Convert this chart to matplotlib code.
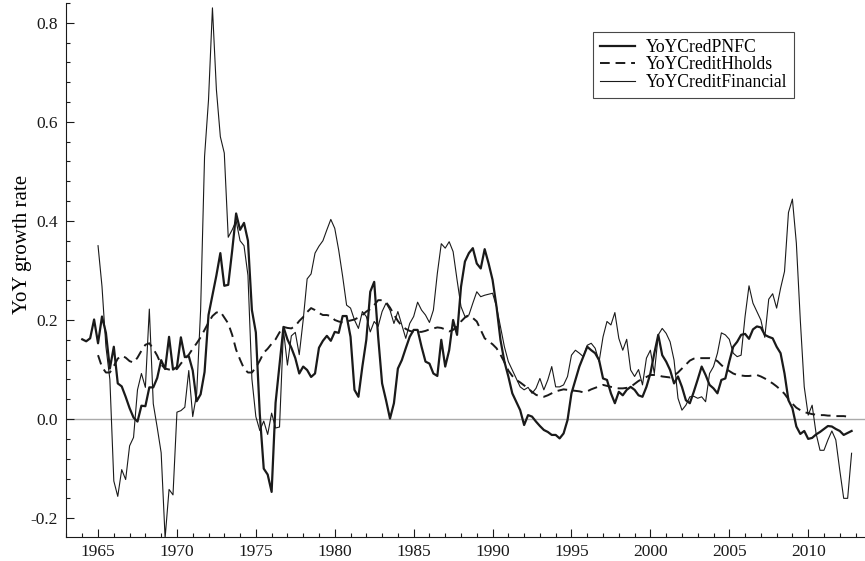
import numpy as np
import matplotlib
matplotlib.use("Agg")
import matplotlib.pyplot as plt
from matplotlib.ticker import MultipleLocator, FormatStrFormatter

plt.rcParams["font.family"] = ["Liberation Serif", "DejaVu Serif"]
plt.rcParams["axes.unicode_minus"] = False

# quarterly values
pnfc_start = 1964.0
pnfc = [
    0.161, 0.157, 0.163, 0.201, 0.153, 0.207, 0.174, 0.102,   # 1964-65
    0.146, 0.072, 0.066, 0.045, 0.022, 0.003, -0.005, 0.027,  # 1966-67
    0.026, 0.064, 0.064, 0.083, 0.119, 0.101, 0.166, 0.100,   # 1968-69
    0.105, 0.165, 0.125, 0.127, 0.098, 0.036, 0.050, 0.095,   # 1970-71
    0.210, 0.250, 0.290, 0.335, 0.269, 0.271, 0.340, 0.415,   # 1972-73
    0.382, 0.396, 0.360, 0.220, 0.175, 0.010, -0.100, -0.112, # 1974-75
    -0.147, 0.033, 0.109, 0.186, 0.161, 0.144, 0.123, 0.092,  # 1976-77
    0.106, 0.099, 0.085, 0.092, 0.144, 0.158, 0.168, 0.158,   # 1978-79
    0.176, 0.174, 0.208, 0.208, 0.166, 0.059, 0.045, 0.106,   # 1980-81
    0.160, 0.257, 0.277, 0.166, 0.072, 0.038, 0.001, 0.032,   # 1982-83
    0.102, 0.119, 0.143, 0.166, 0.180, 0.180, 0.146, 0.116,   # 1984-85
    0.112, 0.092, 0.087, 0.160, 0.106, 0.139, 0.200, 0.170,   # 1986-87
    0.267, 0.318, 0.335, 0.345, 0.314, 0.304, 0.343, 0.314,   # 1988-89
    0.281, 0.227, 0.160, 0.116, 0.086, 0.052, 0.035, 0.018,   # 1990-91
    -0.012, 0.008, 0.005, -0.005, -0.014, -0.022, -0.026, -0.032,  # 1992-93
    -0.032, -0.039, -0.029, -0.002, 0.052, 0.079, 0.106, 0.126,    # 1994-95
    0.146, 0.139, 0.133, 0.119, 0.082, 0.079, 0.052, 0.032,   # 1996-97
    0.055, 0.048, 0.059, 0.065, 0.059, 0.048, 0.045, 0.065,   # 1998-99
    0.092, 0.133, 0.170, 0.129, 0.116, 0.099, 0.072, 0.086,   # 2000-01
    0.065, 0.038, 0.032, 0.055, 0.080, 0.106, 0.089, 0.069,   # 2002-03
    0.062, 0.052, 0.079, 0.082, 0.116, 0.146, 0.156, 0.170,   # 2004-05
    0.172, 0.162, 0.181, 0.187, 0.185, 0.170, 0.166, 0.163,   # 2006-07
    0.146, 0.133, 0.092, 0.038, 0.022, -0.015, -0.030, -0.024,     # 2008-09
    -0.040, -0.038, -0.031, -0.026, -0.020, -0.014, -0.015, -0.020, # 2010-11
    -0.024, -0.032, -0.028, -0.024,                                 # 2012
]

hholds_start = 1965.0
hholds = [
    0.129, 0.105, 0.094, 0.094, 0.107, 0.122, 0.128, 0.124,   # 1965-66
    0.117, 0.114, 0.124, 0.138, 0.150, 0.153, 0.142, 0.128,   # 1967-68
    0.110, 0.102, 0.100, 0.100, 0.101, 0.112, 0.122, 0.130,   # 1969-70
    0.142, 0.153, 0.165, 0.180, 0.195, 0.208, 0.215, 0.217,   # 1971-72
    0.205, 0.193, 0.170, 0.140, 0.120, 0.102, 0.094, 0.094,   # 1973-74
    0.104, 0.118, 0.134, 0.142, 0.152, 0.161, 0.175, 0.186,   # 1975-76
    0.184, 0.183, 0.188, 0.198, 0.206, 0.216, 0.224, 0.220,   # 1977-78
    0.214, 0.210, 0.210, 0.208, 0.200, 0.197, 0.195, 0.197,   # 1979-80
    0.199, 0.201, 0.205, 0.210, 0.217, 0.222, 0.230, 0.240,   # 1981-82
    0.240, 0.236, 0.225, 0.211, 0.198, 0.188, 0.182, 0.178,   # 1983-84
    0.176, 0.176, 0.176, 0.178, 0.181, 0.183, 0.185, 0.184,   # 1985-86
    0.181, 0.177, 0.180, 0.187, 0.197, 0.205, 0.209, 0.204,   # 1987-88
    0.197, 0.180, 0.163, 0.157, 0.151, 0.143, 0.130, 0.115,   # 1989-90
    0.098, 0.087, 0.079, 0.074, 0.068, 0.062, 0.055, 0.049,   # 1991-92
    0.046, 0.045, 0.048, 0.052, 0.056, 0.058, 0.060, 0.059,   # 1993-94
    0.058, 0.057, 0.056, 0.054, 0.056, 0.060, 0.063, 0.066,   # 1995-96
    0.069, 0.067, 0.065, 0.063, 0.062, 0.062, 0.063, 0.065,   # 1997-98
    0.071, 0.077, 0.081, 0.085, 0.089, 0.089, 0.088, 0.086,   # 1999-00
    0.085, 0.084, 0.088, 0.094, 0.102, 0.110, 0.118, 0.122,   # 2001-02
    0.123, 0.123, 0.123, 0.123, 0.121, 0.117, 0.109, 0.102,   # 2003-04
    0.097, 0.092, 0.089, 0.088, 0.087, 0.087, 0.088, 0.089,   # 2005-06
    0.086, 0.082, 0.077, 0.072, 0.066, 0.059, 0.051, 0.040,   # 2007-08
    0.031, 0.023, 0.018, 0.014, 0.012, 0.010, 0.009, 0.008,   # 2009-10
    0.008, 0.007, 0.007, 0.006, 0.006, 0.006, 0.005, 0.005,   # 2011-12
]

fin_start = 1965.0
financial = [
    0.350, 0.268, 0.146, 0.080, -0.125, -0.156, -0.102, -0.122,  # 1965-66
    -0.054, -0.037, 0.059, 0.092, 0.064, 0.222, 0.031, -0.017,   # 1967-68
    -0.068, -0.240, -0.142, -0.153, 0.014, 0.017, 0.024, 0.098,  # 1969-70
    0.005, 0.051, 0.220, 0.530, 0.644, 0.830, 0.665, 0.570,      # 1971-72
    0.537, 0.367, 0.382, 0.400, 0.360, 0.350, 0.290, 0.081,      # 1973-74
    0.005, -0.023, -0.004, -0.031, 0.012, -0.018, -0.016, 0.180, # 1975-76
    0.109, 0.168, 0.175, 0.130, 0.200, 0.283, 0.293, 0.335,      # 1977-78
    0.349, 0.360, 0.382, 0.403, 0.385, 0.341, 0.288, 0.230,      # 1979-80
    0.224, 0.200, 0.183, 0.217, 0.207, 0.176, 0.197, 0.187,      # 1981-82
    0.217, 0.234, 0.220, 0.193, 0.217, 0.190, 0.163, 0.193,      # 1983-84
    0.207, 0.236, 0.220, 0.210, 0.195, 0.220, 0.294, 0.354,      # 1985-86
    0.345, 0.358, 0.338, 0.281, 0.227, 0.207, 0.210, 0.234,      # 1987-88
    0.257, 0.247, 0.250, 0.252, 0.254, 0.227, 0.187, 0.146,      # 1989-90
    0.116, 0.099, 0.082, 0.065, 0.059, 0.064, 0.052, 0.062,      # 1991-92
    0.082, 0.059, 0.079, 0.106, 0.065, 0.065, 0.069, 0.086,      # 1993-94
    0.129, 0.139, 0.133, 0.126, 0.149, 0.153, 0.143, 0.116,      # 1995-96
    0.166, 0.197, 0.190, 0.215, 0.163, 0.139, 0.161, 0.099,      # 1997-98
    0.086, 0.100, 0.069, 0.123, 0.139, 0.092, 0.170, 0.183,      # 1999-00
    0.173, 0.156, 0.119, 0.042, 0.018, 0.028, 0.045, 0.046,      # 2001-02
    0.042, 0.045, 0.035, 0.092, 0.106, 0.133, 0.174, 0.170,      # 2003-04
    0.161, 0.133, 0.126, 0.129, 0.207, 0.269, 0.234, 0.217,      # 2005-06
    0.200, 0.165, 0.242, 0.253, 0.224, 0.264, 0.298, 0.417,      # 2007-08
    0.444, 0.355, 0.200, 0.065, 0.008, 0.028, -0.029, -0.063,    # 2009-10
    -0.063, -0.042, -0.024, -0.042, -0.103, -0.160, -0.160, -0.069,  # 2011-12
]


def quarters(start, values):
    return start + 0.25 * np.arange(len(values))


fig = plt.figure(figsize=(8.65, 5.61), dpi=100)
ax = fig.add_axes([0.0763, 0.0428, 0.9237, 0.952])

ax.axhline(0.0, color="#aaaaaa", lw=1.0, zorder=1)

ink = "#1a1a1a"
ax.plot(quarters(pnfc_start, pnfc), pnfc, color=ink, lw=1.6,
        label="YoYCredPNFC")
ax.plot(quarters(hholds_start, hholds), hholds, color=ink, lw=1.4,
        dashes=(5, 3), label="YoYCreditHholds")
ax.plot(quarters(fin_start, financial), financial, color=ink, lw=0.8,
        label="YoYCreditFinancial")

ax.set_xlim(1962.97, 2013.6)
ax.set_ylim(-0.238, 0.840)

ax.xaxis.set_major_locator(MultipleLocator(5))
ax.xaxis.set_minor_locator(MultipleLocator(1))
ax.yaxis.set_major_locator(MultipleLocator(0.2))
ax.yaxis.set_minor_locator(MultipleLocator(0.04))
ax.yaxis.set_major_formatter(FormatStrFormatter("%.1f"))
ax.tick_params(which="both", direction="in", colors=ink, labelsize=12.5)
ax.tick_params(which="major", length=6, width=0.8)
ax.tick_params(which="minor", length=3, width=0.8)
ax.tick_params(axis="x", pad=5)
ax.tick_params(axis="y", pad=6)

for side in ("top", "right"):
    ax.spines[side].set_visible(False)
for side in ("left", "bottom"):
    ax.spines[side].set_color(ink)
    ax.spines[side].set_linewidth(0.8)

ax.set_ylabel("YoY growth rate", fontsize=15)
ax.yaxis.set_label_coords(-0.043, 0.547)

leg = ax.legend(loc="upper left", bbox_to_anchor=(593 / 865, 1 - 32 / 561),
                bbox_transform=fig.transFigure, borderaxespad=0,
                fontsize=12.7, frameon=True, fancybox=False, handlelength=2.0,
                handletextpad=0.6, labelspacing=0.02, borderpad=0.4)
leg.get_frame().set_edgecolor(ink)
leg.get_frame().set_linewidth(0.8)

fig.savefig("out.png", dpi=100)
